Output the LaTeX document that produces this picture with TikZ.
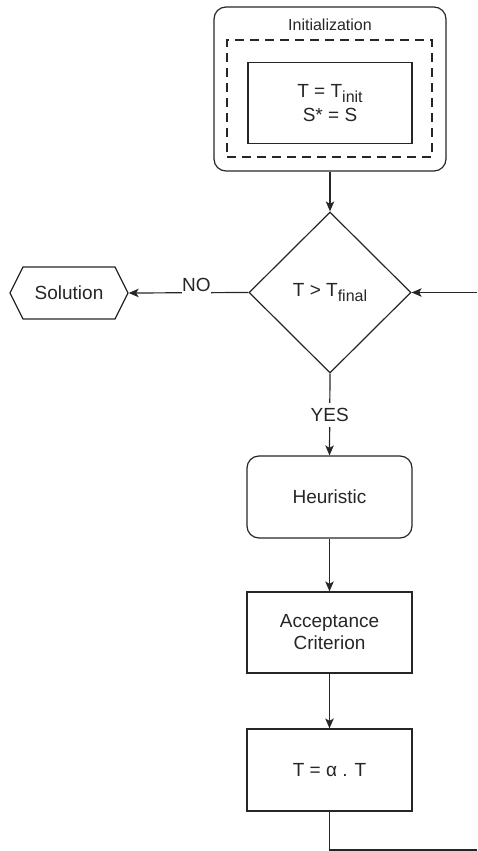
\documentclass[tikz,border=0pt]{standalone}
\usepackage{fontspec}
\setmainfont{Liberation Sans}
\usetikzlibrary{arrows.meta,shapes.geometric,shapes.symbols}
\definecolor{ink}{HTML}{262626}
\newcommand{\subtxt}[1]{\raisebox{-0.28em}{\fontsize{16}{16}\selectfont #1}}
\begin{document}
\begin{tikzpicture}[x=1pt,y=-1pt,
  every node/.style={text=ink},
  base/.style={draw=ink, line width=1.2pt, inner sep=0pt,
    font=\fontsize{19}{23}\selectfont, align=center},
  procbox/.style={base, rectangle, minimum width=165pt, minimum height=81pt},
  roundbox/.style={procbox, rounded corners=12pt},
  decision/.style={base, diamond, minimum width=162pt, minimum height=161pt},
  terminal/.style={base, signal, signal to=west and east,
    signal pointer angle=127, minimum width=118pt, minimum height=52pt},
  flow/.style={draw=ink, line width=1.2pt,
    -{Stealth[length=10pt,width=8.5pt,inset=2.5pt]}},
  plain/.style={draw=ink, line width=1.2pt},
  lbl/.style={fill=white, text=ink, font=\fontsize{19}{23}\selectfont}
]
\useasboundingbox (0,0) rectangle (477,851);

% initialization block
\node[base, rounded corners=12pt, minimum width=232pt, minimum height=164pt] (init) at (330,89) {};
\node[font=\fontsize{16}{18}\selectfont] (inittitle) at (330,25) {Initialization};
\node[base, dashed, dash pattern=on 9pt off 6pt, minimum width=205pt, minimum height=117pt] (initgroup) at (329.5,98.5) {};
\node[base, font=\fontsize{19}{24}\selectfont, minimum width=164pt, minimum height=81pt] (initvals) at (330,103)
  {T = T\subtxt{init}\\S* = S};

% temperature test and exit
\node[decision] (test) at (330,292.5) {T > T\subtxt{final}};
\node[terminal] (sol) at (69,293) {Solution};

% annealing steps
\node[roundbox, minimum height=82pt] (heur) at (329.5,497) {Heuristic};
\node[procbox, font=\fontsize{19}{22}\selectfont] (accept) at (329.5,632.5) {Acceptance\\Criterion};
\node[procbox, minimum height=82pt] (cool) at (329.5,770) {T = α . T};

% loop-back path
\coordinate (loopin) at (477,292.5);
\coordinate (loopdown) at (329.5,850);
\coordinate (loopout) at (477,850);

% connectors
\draw[flow] (init.south) -- (test.north);
\draw[flow] (test.west) -- node[lbl, pos=0.434, anchor=south, inner xsep=0.5pt, inner ysep=2pt, yshift=-1.5pt] {NO} (sol.east);
\draw[flow] (test.south) -- node[lbl, pos=0.506, inner xsep=1pt, inner ysep=5pt] {YES} (heur.north);
\draw[flow] (heur.south) -- (accept.north);
\draw[flow] (accept.south) -- (cool.north);
\draw[flow] (loopin) -- (test.east);
\draw[plain] (cool.south) -- (loopdown) -- (loopout);
\end{tikzpicture}
\end{document}
